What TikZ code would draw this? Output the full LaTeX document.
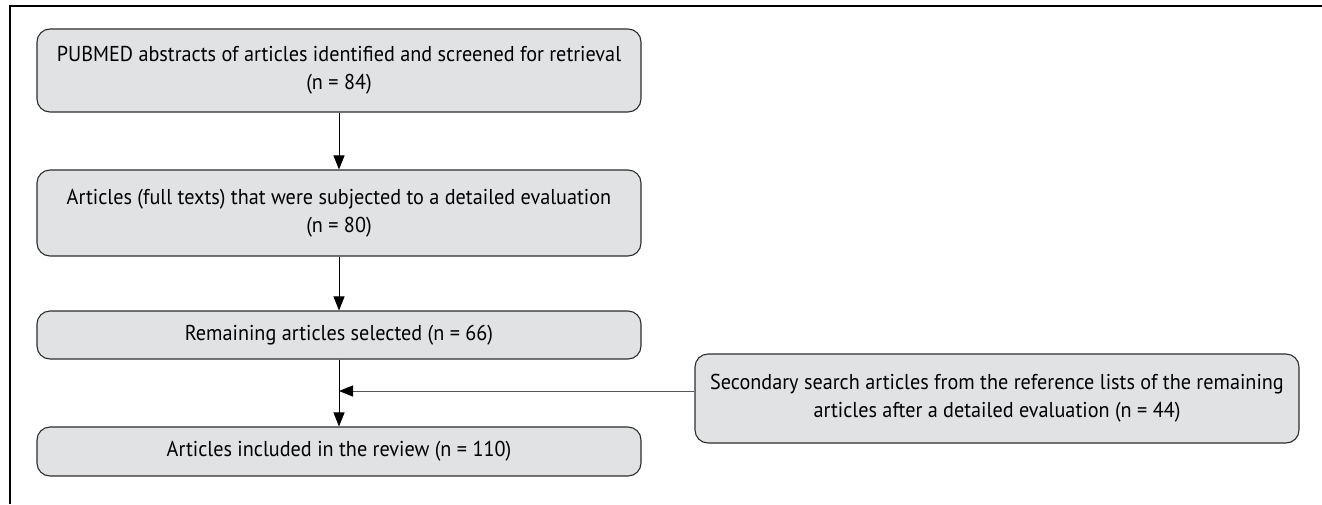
\documentclass[tikz,border=0pt]{standalone}
\usepackage{fontspec}
\setmainfont{PT Sans}[FakeStretch=0.94]
\usetikzlibrary{arrows.meta}
\definecolor{boxfill}{HTML}{E1E2E4}
\definecolor{boxline}{HTML}{2E2E2E}
\definecolor{hline}{HTML}{555555}
\tikzset{
  stepbox/.style={draw=boxline, line width=1.1pt, fill=boxfill, rounded corners=13pt,
    minimum width=604pt, align=center, inner sep=0pt, font=\fontsize{21.5}{28}\selectfont},
  flow/.style={-{Triangle[length=14pt,width=11pt]}, line width=1pt, black},
}
\begin{document}
\begin{tikzpicture}[x=1pt,y=-1pt]
\useasboundingbox (0,0) rectangle (1322,504);
\clip (0,0) rectangle (1322,504);
\fill[white] (0,0) rectangle (1322,504);
\draw[line width=2.6pt] (10,504) -- (10,6) -- (1322,6);
\node[stepbox, minimum height=83pt] (b1) at (339,70.5) {PUBMED abstracts of articles identified and screened for retrieval\\(n = 84)};
\node[stepbox, minimum height=86pt] (b2) at (339,213) {Articles (full texts) that were subjected to a detailed evaluation\\(n = 80)};
\node[stepbox, minimum height=48pt] (b3) at (339,335) {Remaining articles selected (n = 66)};
\node[stepbox, minimum height=49pt] (b4) at (339,451.5) {Articles included in the review (n = 110)};
\node[stepbox, minimum height=89pt] (sec) at (997,398.5) {Secondary search articles from the reference lists of the remaining\\articles after a detailed evaluation (n = 44)};
\coordinate (join) at (339,391);
\draw[flow] (b1.south) -- (b2.north);
\draw[flow] (b2.south) -- (b3.north);
\draw[flow] (b3.south) -- (b4.north);
\draw[-{Triangle[length=14pt,width=11pt,color=black]}, line width=1pt, hline] (sec.west |- join) -- (join);
\end{tikzpicture}
\end{document}
